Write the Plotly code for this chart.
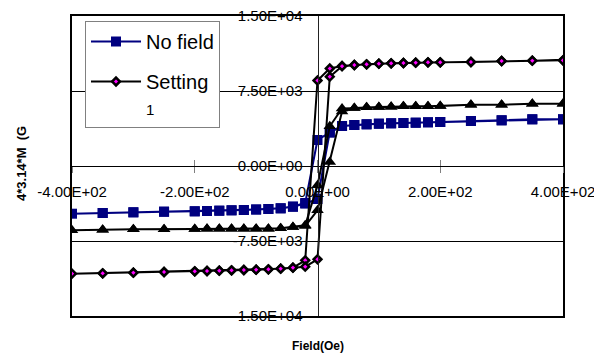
import plotly.graph_objects as go

# ---- data ----
field_desc = [400, 350, 300, 250, 200, 180, 160, 140, 120, 100, 80, 60, 40, 20, 0,
              -20, -40, -60, -80, -100, -120, -140, -160, -180, -200, -250, -300, -350, -400]
field_asc = [-350, -300, -250, -200, -180, -160, -140, -120, -100, -80, -60, -40, -20, 0,
             20, 40, 60, 80, 100, 120, 140, 160, 180, 200, 250, 300, 350, 400]
field = field_desc + field_asc

no_field = [4670, 4670, 4570, 4500, 4400, 4370, 4330, 4300, 4270, 4230, 4170, 4100, 4000, 3330, 2600,
            -3700, -4050, -4230, -4300, -4350, -4400, -4430, -4470, -4500, -4530, -4570, -4630, -4700, -4770,
            -4700, -4630, -4570, -4530, -4500, -4470, -4430, -4400, -4350, -4300, -4230, -4080, -3760, -3300,
            3400, 4000, 4100, 4170, 4230, 4270, 4300, 4330, 4370, 4400, 4500, 4570, 4670, 4670]

setting1 = [10570, 10530, 10500, 10400, 10370, 10370, 10330, 10300, 10270, 10230, 10170, 10100, 10000, 9750, 8550,
            -9430, -10170, -10270, -10330, -10370, -10400, -10430, -10470, -10500, -10530, -10600, -10670, -10730, -10770,
            -10730, -10670, -10600, -10530, -10500, -10470, -10430, -10400, -10370, -10330, -10270, -10170, -10070, -9330,
            8930, 9980, 10100, 10170, 10230, 10270, 10300, 10330, 10370, 10370, 10400, 10500, 10530, 10570]

series3 = [6230, 6230, 6130, 6130, 6000, 5970, 5970, 5970, 5930, 5900, 5870, 5800, 5750, 3970, -1930,
           -5930, -6100, -6230, -6270, -6270, -6270, -6270, -6270, -6270, -6300, -6330, -6330, -6370, -6430,
           -6370, -6330, -6330, -6300, -6270, -6270, -6270, -6270, -6270, -6270, -6230, -6100, -6000, -4430,
           400, 5440, 5800, 5870, 5900, 5930, 5970, 5970, 5970, 6000, 6130, 6130, 6230, 6230]

x_tickvals = [-400, -200, 0, 200, 400]
x_ticktext = ["-4.00E+02", "-2.00E+02", "0.00E+00", "2.00E+02", "4.00E+02"]
y_tickvals = [-15000, -7500, 0, 7500, 15000]
y_ticktext = ["-1.50E+04", "-7.50E+03", "0.00E+00", "7.50E+03", "1.50E+04"]

FONT = "Liberation Sans, Arial, sans-serif"

fig = go.Figure()
fig.add_trace(go.Scatter(
    x=field, y=no_field, name="No field", mode="lines+markers", legendgroup="a",
    line=dict(color="#000080", width=2),
    marker=dict(symbol="square", size=10, color="#000080", line=dict(width=0)),
))
fig.add_trace(go.Scatter(
    x=field, y=setting1, name="Setting<br><span style='font-size:15px'>1</span>",
    mode="lines+markers", legendgroup="b",
    line=dict(color="black", width=2),
    marker=dict(symbol="diamond", size=6, color="#FF00FF", line=dict(color="black", width=2.5)),
))
fig.add_trace(go.Scatter(
    x=field, y=series3, name="Series 3", mode="lines+markers", showlegend=False, legendgroup="c",
    line=dict(color="black", width=2),
    marker=dict(symbol="triangle-up", size=11, color="black", line=dict(width=0)),
))
# invisible trace on the frame axes (x2/y2): inward tick marks + plot-area frame
fig.add_trace(go.Scatter(x=[None], y=[None], xaxis="x2", yaxis="y2", showlegend=False, hoverinfo="skip"))

fig.update_layout(
    template="none",
    width=594, height=356,
    margin=dict(l=72, r=31, t=16, b=40),
    paper_bgcolor="white", plot_bgcolor="white",
    font=dict(family=FONT, size=15, color="black"),
    showlegend=True,
    legend=dict(
        x=(85 - 72) / 491, y=(316 - 21) / 300, xanchor="left", yanchor="top",
        bgcolor="white", bordercolor="#808080", borderwidth=1,
        font=dict(family=FONT, size=20, color="black"),
        traceorder="grouped", tracegroupgap=11, valign="top", itemwidth=50,
    ),
    xaxis=dict(
        range=[-400, 400], domain=[0, 1], anchor="free", position=0.5, automargin=False,
        tickvals=x_tickvals, ticktext=x_ticktext, ticklabeloverflow="allow",
        showgrid=False, zeroline=False, showline=False,
        ticks="outside", ticklen=6, tickcolor="#808080", tickwidth=1,
        ticklabelstandoff=6,
        tickfont=dict(family=FONT, size=15, color="black"),
    ),
    yaxis=dict(
        range=[-15000, 15000], domain=[0, 1], anchor="free", position=0.5, automargin=False,
        tickvals=y_tickvals, ticktext=y_ticktext, ticklabeloverflow="allow",
        showgrid=True, gridcolor="black", gridwidth=1,
        zeroline=False, showline=True, linecolor="#222222", linewidth=1,
        ticks="", ticklabelstandoff=12,
        tickfont=dict(family=FONT, size=15, color="black"),
    ),
    xaxis2=dict(
        range=[-400, 400], domain=[0, 1], anchor="y2", overlaying="x", automargin=False,
        showticklabels=False, showgrid=False, zeroline=False, ticks="",
        showline=True, mirror=True, linecolor="black", linewidth=2,
    ),
    yaxis2=dict(
        range=[-15000, 15000], domain=[0, 1], anchor="x2", overlaying="y", automargin=False,
        showticklabels=False, showgrid=False, zeroline=False, ticks="",
        showline=True, mirror=True, linecolor="black", linewidth=2,
    ),
    xaxis3=dict(
        range=[-400, 400], domain=[0, 1], anchor="free", position=0.5, overlaying="x",
        automargin=False, tickvals=x_tickvals, showticklabels=False,
        showgrid=False, zeroline=False, showline=False,
        ticks="inside", ticklen=6, tickcolor="#808080", tickwidth=1,
    ),
    annotations=[
        dict(text="<b>4*3.14*M  (G</b>", xref="paper", yref="paper",
             x=(21 - 72) / 491, y=(316 - 164) / 300, xanchor="center", yanchor="middle",
             textangle=-90, showarrow=False, font=dict(family=FONT, size=13, color="black")),
        dict(text="<b>Field(Oe)</b>", xref="paper", yref="paper",
             x=(318 - 72) / 491, y=(316 - 346) / 300, xanchor="center", yanchor="middle",
             showarrow=False, font=dict(family=FONT, size=12, color="black")),
    ],
)
fig.add_trace(go.Scatter(x=[None], y=[None], xaxis="x3", yaxis="y", showlegend=False, hoverinfo="skip"))

fig.write_html("out.html")
